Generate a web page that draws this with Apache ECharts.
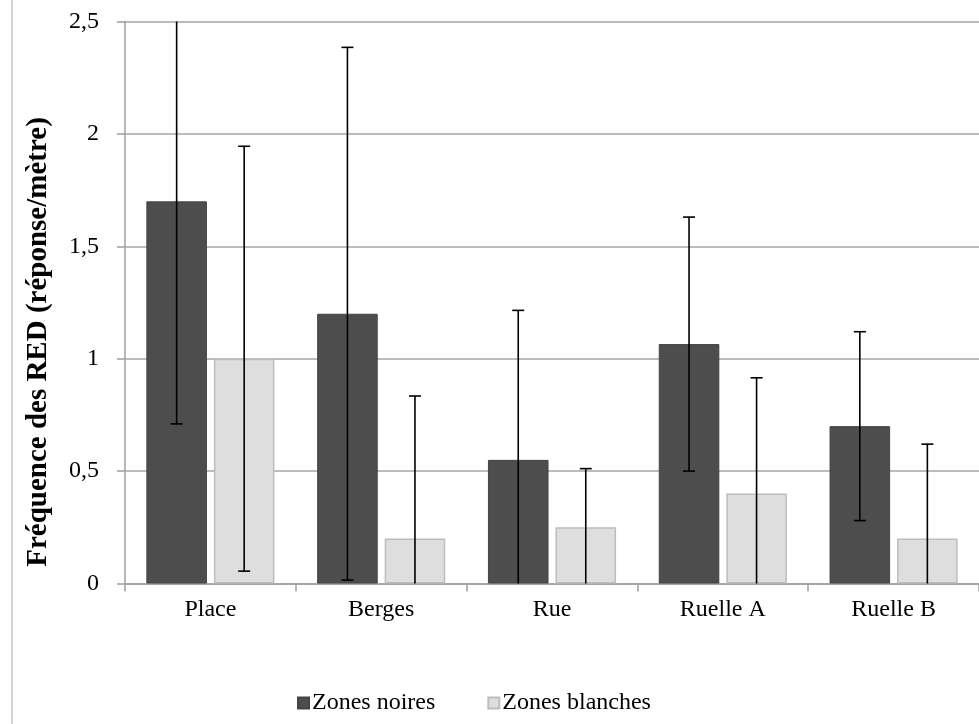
<!DOCTYPE html>
<html>
<head>
<meta charset="utf-8">
<script src="https://cdn.jsdelivr.net/npm/echarts@6/dist/echarts.min.js"></script>
<style>
html,body{margin:0;padding:0;background:#fff;}
#chart{width:979px;height:724px;}
</style>
</head>
<body>
<div id="chart"></div>
<script>
const categories = ['Place', 'Berges', 'Rue', 'Ruelle A', 'Ruelle B'];
const seriesNames = ['Zones noires', 'Zones blanches'];
const noires = [1.70, 1.20, 0.55, 1.065, 0.70];
const blanches = [1.00, 0.20, 0.25, 0.40, 0.20];
const errNoires = [0.99, 1.185, 0.665, 0.565, 0.42];
const errBlanches = [0.945, 0.634, 0.261, 0.515, 0.42];
const yMin = 0, yMax = 2.5, yInterval = 0.5;
const yTitle = 'Fréquence des RED (réponse/mètre)';

const CAT_GAP = 0.25, BAR_GAP = 0.115;
const FONT = '"Liberation Serif", "Times New Roman", serif';

function errSeries(vals, errs, sign) {
  return {
    type: 'custom',
    silent: true,
    z: 10,
    data: categories.map((c, i) => [i, vals[i], errs[i]]),
    renderItem: function (params, api) {
      const i = api.value(0), v = api.value(1), e = api.value(2);
      const band = api.size([1, 0])[0];
      const bw = band * (1 - CAT_GAP) / (2 + BAR_GAP);
      const off = bw * (1 + BAR_GAP) / 2 * sign;
      const hiV = v + e, loV = v - e;
      const hi = Math.min(hiV, yMax), lo = Math.max(loV, yMin);
      const pHi = api.coord([i, hi]), pLo = api.coord([i, lo]);
      const x = pHi[0] + off;
      const st = { stroke: '#000', lineWidth: 1.6 };
      const cw = 6;
      const children = [{ type: 'line', shape: { x1: x, y1: pHi[1], x2: x, y2: pLo[1] }, style: st }];
      if (hiV <= yMax) children.push({ type: 'line', shape: { x1: x - cw, y1: pHi[1], x2: x + cw, y2: pHi[1] }, style: st });
      if (loV >= yMin) children.push({ type: 'line', shape: { x1: x - cw, y1: pLo[1], x2: x + cw, y2: pLo[1] }, style: st });
      return { type: 'group', children: children };
    }
  };
}

const chart = echarts.init(document.getElementById('chart'));
chart.setOption({
  animation: false,
  backgroundColor: '#fff',
  textStyle: { fontFamily: FONT },
  grid: { left: 125, right: 0, top: 21.5, bottom: 140.5 },
  legend: {
    data: seriesNames,
    left: 297, top: 691, padding: 0,
    icon: 'rect', itemWidth: 11, itemHeight: 11, itemGap: 52,
    textStyle: { fontFamily: FONT, fontSize: 24, color: '#000', padding: [0, 0, 0, -2] }
  },
  xAxis: {
    type: 'category',
    data: categories,
    axisLine: { lineStyle: { color: '#a0a0a0', width: 1.5 } },
    axisTick: { show: true, length: 8, lineStyle: { color: '#a0a0a0', width: 1.5 } },
    axisLabel: { fontFamily: FONT, fontSize: 24, color: '#000', margin: 14 }
  },
  yAxis: {
    type: 'value',
    min: yMin, max: yMax, interval: yInterval,
    axisLine: { show: true, lineStyle: { color: '#a0a0a0', width: 1.5 } },
    axisTick: { show: true, length: 8, lineStyle: { color: '#a0a0a0', width: 1.5 } },
    splitLine: { lineStyle: { color: '#a6a6a6', width: 1.5 } },
    axisLabel: {
      fontFamily: FONT, fontSize: 24, color: '#000', margin: 26,
      formatter: v => String(v).replace('.', ',')
    }
  },
  graphic: [
    { type: 'line', shape: { x1: 12, y1: 0, x2: 12, y2: 724 }, style: { stroke: '#c4c4c4', lineWidth: 1.5 } },
    {
      type: 'text', x: 39, y: 342, rotation: Math.PI / 2,
      style: { text: yTitle, font: 'bold 29px ' + FONT, fill: '#000', align: 'center', verticalAlign: 'middle' }
    }
  ],
  series: [
    {
      name: seriesNames[0], type: 'bar', data: noires,
      barCategoryGap: (CAT_GAP * 100) + '%', barGap: (BAR_GAP * 100) + '%',
      itemStyle: { color: '#4d4d4d', borderColor: '#444', borderWidth: 1 }
    },
    {
      name: seriesNames[1], type: 'bar', data: blanches,
      barCategoryGap: (CAT_GAP * 100) + '%', barGap: (BAR_GAP * 100) + '%',
      itemStyle: { color: '#dedede', borderColor: '#bdbdbd', borderWidth: 1.5 }
    },
    errSeries(noires, errNoires, -1),
    errSeries(blanches, errBlanches, 1)
  ]
});
</script>
</body>
</html>
